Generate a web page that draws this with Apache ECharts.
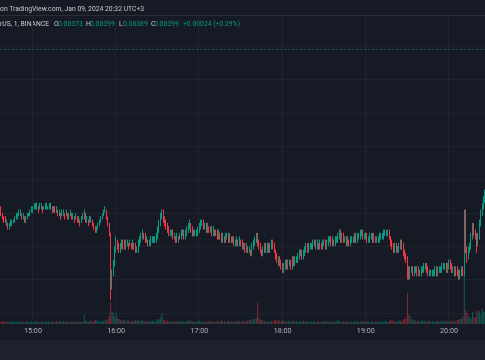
<!DOCTYPE html>
<html><head><meta charset="utf-8">
<script src="https://cdn.jsdelivr.net/npm/echarts@6/dist/echarts.min.js"></script>
<style>html,body{margin:0;padding:0;background:#161a25;}#c{width:485px;height:360px;}</style>
</head><body><div id="c"></div>
<script>
// Dogecoin / TetherUS, 1 min, BINANCE — prices in units of 0.00001
const startTime = '14:37';
const slotCount = 356; // 14:37 .. 20:32
const openE5 = [
8351,8350,8349,8348,8347,8347,8346,8346,8347,8347,
8348,8348,8349,8349,8350,8350,8349,8349,8348,8349,
8349,8350,8350,8351,8351,8352,8352,8352,8351,8352,
8352,8351,8352,8352,8352,8352,8352,8352,8351,8352,
8351,8351,8350,8350,8349,8350,8350,8349,8350,8349,
8350,8350,8349,8349,8348,8349,8348,8348,8347,8348,
8349,8350,8348,8348,8347,8348,8348,8347,8346,8345,
8345,8346,8347,8348,8349,8350,8351,8349,8347,8344,
8330,8332,8335,8339,8341,8340,8339,8340,8341,8340,
8341,8340,8341,8340,8341,8340,8341,8340,8339,8339,
8341,8342,8343,8344,8343,8342,8342,8341,8341,8342,
8342,8342,8342,8343,8345,8347,8349,8350,8348,8347,
8346,8345,8344,8344,8344,8343,8343,8342,8343,8342,
8343,8344,8344,8343,8344,8345,8346,8347,8345,8344,
8344,8344,8344,8345,8346,8347,8347,8346,8346,8345,
8346,8345,8345,8344,8345,8344,8344,8343,8344,8343,
8342,8343,8342,8343,8343,8342,8343,8342,8342,8341,
8341,8342,8341,8342,8341,8340,8340,8339,8340,8339,
8339,8338,8340,8341,8342,8343,8341,8340,8339,8338,
8339,8340,8339,8340,8339,8340,8341,8340,8339,8337,
8336,8335,8336,8334,8333,8334,8335,8334,8335,8335,
8334,8336,8335,8336,8336,8337,8338,8338,8337,8338,
8339,8340,8339,8340,8340,8340,8341,8341,8340,8341,
8340,8341,8340,8341,8341,8340,8341,8342,8342,8341,
8342,8341,8342,8342,8343,8344,8342,8343,8342,8342,
8341,8342,8341,8342,8342,8342,8343,8342,8343,8343,
8344,8344,8343,8343,8343,8342,8342,8343,8343,8342,
8343,8342,8342,8342,8343,8343,8343,8344,8344,8344,
8344,8343,8341,8340,8339,8340,8339,8339,8340,8341,
8340,8338,8337,8336,8333,8331,8333,8333,8332,8333,
8333,8332,8333,8332,8333,8333,8334,8334,8333,8332,
8332,8332,8332,8332,8333,8332,8333,8333,8333,8334,
8334,8334,8333,8334,8335,8334,8333,8333,8332,8333,
8332,8331,8332,8333,8332,8350,8339,8337,8339,8340,
8343,8346,8344,8343,8341,8343,8347,8350,8352,8354];
const closeE5 = [
8350,8349,8348,8347,8347,8346,8346,8347,8347,8348,
8348,8349,8349,8350,8350,8349,8349,8348,8349,8349,
8350,8350,8351,8351,8352,8352,8352,8351,8352,8352,
8351,8352,8352,8352,8352,8352,8352,8351,8352,8351,
8351,8350,8350,8349,8350,8350,8349,8350,8349,8350,
8350,8349,8349,8348,8349,8348,8348,8347,8348,8349,
8350,8348,8348,8347,8348,8348,8347,8346,8345,8345,
8346,8347,8348,8349,8350,8351,8349,8347,8344,8330,
8332,8335,8339,8341,8340,8339,8340,8341,8340,8341,
8340,8341,8340,8341,8340,8341,8340,8339,8339,8341,
8342,8343,8344,8343,8342,8342,8341,8341,8342,8342,
8342,8342,8343,8345,8347,8349,8350,8348,8347,8346,
8345,8344,8344,8344,8343,8343,8342,8343,8342,8343,
8344,8344,8343,8344,8345,8346,8347,8345,8344,8344,
8344,8344,8345,8346,8347,8347,8346,8346,8345,8346,
8345,8345,8344,8345,8344,8344,8343,8344,8343,8342,
8343,8342,8343,8343,8342,8343,8342,8342,8341,8341,
8342,8341,8342,8341,8340,8340,8339,8340,8339,8339,
8338,8340,8341,8342,8343,8341,8340,8339,8338,8339,
8340,8339,8340,8339,8340,8341,8340,8339,8337,8336,
8335,8336,8334,8333,8334,8335,8334,8335,8335,8334,
8336,8335,8336,8336,8337,8338,8338,8337,8338,8339,
8340,8339,8340,8340,8340,8341,8341,8340,8341,8340,
8341,8340,8341,8341,8340,8341,8342,8342,8341,8342,
8341,8342,8342,8343,8344,8342,8343,8342,8342,8341,
8342,8341,8342,8342,8342,8343,8342,8343,8343,8344,
8344,8343,8343,8343,8342,8342,8343,8343,8342,8343,
8342,8342,8342,8343,8343,8343,8344,8344,8344,8344,
8343,8341,8340,8339,8340,8339,8339,8340,8341,8340,
8338,8337,8336,8333,8331,8333,8333,8332,8333,8333,
8332,8333,8332,8333,8333,8334,8334,8333,8332,8332,
8332,8332,8332,8333,8332,8333,8333,8333,8334,8334,
8334,8333,8334,8335,8334,8333,8333,8332,8333,8332,
8331,8332,8333,8332,8350,8339,8337,8339,8340,8343,
8346,8344,8343,8341,8343,8347,8350,8352,8354,8356];
const highE5 = [
8352,8350,8349,8349,8348,8347,8347,8348,8348,8348,
8349,8350,8350,8351,8351,8350,8350,8349,8349,8350,
8350,8351,8352,8352,8353,8353,8353,8352,8353,8353,
8352,8352,8353,8353,8352,8353,8353,8352,8352,8352,
8352,8351,8351,8350,8351,8351,8350,8351,8350,8350,
8351,8350,8350,8349,8350,8349,8349,8348,8349,8350,
8351,8350,8349,8348,8349,8349,8348,8347,8346,8346,
8347,8348,8349,8350,8351,8352,8351,8349,8347,8344,
8333,8336,8340,8343,8342,8341,8341,8342,8342,8342,
8342,8342,8341,8342,8341,8342,8341,8341,8340,8342,
8343,8344,8345,8344,8344,8343,8342,8342,8343,8343,
8343,8343,8344,8346,8348,8350,8351,8351,8349,8348,
8347,8346,8345,8345,8345,8344,8343,8344,8343,8344,
8345,8345,8345,8345,8346,8347,8348,8347,8346,8345,
8345,8345,8346,8347,8348,8348,8348,8347,8347,8347,
8346,8346,8346,8346,8345,8345,8345,8345,8344,8344,
8344,8343,8344,8344,8344,8344,8343,8343,8343,8342,
8343,8342,8343,8342,8342,8341,8341,8341,8340,8340,
8339,8341,8342,8343,8344,8344,8342,8341,8339,8340,
8341,8341,8341,8341,8341,8342,8342,8341,8339,8338,
8337,8337,8336,8335,8335,8336,8336,8336,8336,8336,
8337,8337,8337,8337,8338,8339,8339,8339,8339,8340,
8341,8341,8341,8341,8341,8342,8342,8342,8342,8341,
8342,8341,8342,8342,8342,8342,8343,8343,8343,8343,
8342,8343,8343,8344,8345,8345,8344,8344,8343,8343,
8343,8342,8343,8343,8343,8344,8344,8344,8344,8345,
8345,8345,8344,8344,8344,8343,8344,8344,8344,8344,
8343,8343,8343,8344,8344,8344,8345,8345,8345,8345,
8345,8343,8342,8341,8341,8341,8340,8341,8342,8342,
8341,8339,8338,8337,8334,8334,8334,8334,8334,8334,
8334,8334,8333,8334,8334,8335,8335,8335,8334,8333,
8333,8333,8333,8334,8334,8334,8334,8334,8335,8335,
8335,8335,8335,8336,8336,8335,8334,8334,8334,8334,
8333,8333,8334,8334,8351,8351,8340,8340,8341,8344,
8347,8347,8345,8344,8344,8348,8351,8353,8355,8357];
const lowE5 = [
8349,8348,8347,8347,8346,8345,8345,8346,8346,8347,
8347,8348,8348,8349,8349,8348,8348,8347,8347,8348,
8349,8349,8350,8350,8351,8351,8351,8350,8351,8351,
8350,8351,8351,8351,8351,8351,8351,8350,8350,8350,
8350,8349,8349,8348,8349,8349,8348,8349,8348,8348,
8349,8348,8348,8347,8348,8347,8347,8346,8347,8348,
8348,8347,8347,8346,8347,8347,8346,8345,8344,8344,
8345,8346,8347,8348,8349,8350,8348,8346,8343,8324,
8327,8331,8334,8338,8339,8338,8338,8339,8339,8339,
8339,8340,8339,8340,8339,8339,8339,8338,8338,8338,
8340,8341,8342,8342,8341,8341,8340,8340,8340,8341,
8341,8341,8341,8342,8344,8346,8348,8347,8346,8345,
8344,8343,8343,8343,8342,8342,8341,8341,8341,8342,
8342,8343,8342,8342,8343,8344,8345,8344,8343,8343,
8343,8343,8343,8344,8345,8346,8345,8345,8344,8344,
8344,8344,8343,8343,8343,8343,8342,8342,8342,8341,
8341,8341,8341,8342,8341,8341,8341,8341,8340,8340,
8340,8340,8340,8340,8339,8339,8338,8338,8338,8338,
8337,8337,8339,8340,8341,8340,8339,8338,8337,8337,
8338,8338,8338,8338,8338,8339,8339,8338,8336,8335,
8334,8334,8333,8332,8332,8333,8333,8333,8334,8333,
8333,8334,8334,8335,8335,8336,8337,8336,8336,8337,
8338,8338,8338,8339,8339,8339,8340,8339,8339,8339,
8339,8339,8339,8340,8339,8339,8340,8341,8340,8340,
8340,8340,8341,8341,8342,8341,8341,8341,8341,8340,
8340,8340,8340,8341,8341,8341,8341,8341,8342,8342,
8343,8342,8342,8342,8341,8341,8341,8342,8341,8341,
8341,8341,8341,8341,8342,8342,8342,8343,8343,8343,
8342,8340,8339,8338,8338,8338,8338,8338,8339,8339,
8337,8336,8335,8330,8330,8330,8332,8331,8331,8332,
8331,8331,8331,8331,8332,8332,8333,8332,8331,8331,
8331,8331,8331,8331,8331,8331,8332,8332,8332,8333,
8333,8332,8332,8333,8333,8332,8332,8331,8331,8331,
8330,8330,8331,8331,8331,8338,8335,8336,8338,8339,
8342,8343,8342,8338,8340,8342,8346,8349,8351,8353];
const volume = [
5,4,6,3,4,5,3,4,6,3, 4,3,5,4,3,6,4,3,4,5, 3,4,5,3,4,6,5,4,3,5, 4,3,5,4,6,3,4,5,3,4,
5,4,3,6,4,5,3,4,5,4, 3,5,4,3,6,4,5,4,3,5, 17,6,5,4,7,5,4,6,8,7, 6,5,4,6,5,8,6,9,15,41,
22,20,14,20,10,9,8,7,6,8, 5,7,6,5,4,6,5,8,7,6, 5,6,7,5,4,6,5,4,5,6, 5,4,6,8,9,12,20,8,7,6,
5,6,4,5,4,3,5,6,4,5, 4,5,3,4,6,5,7,6,4,5, 4,3,5,6,4,5,4,3,5,4, 6,4,5,3,4,5,6,4,5,7,
4,5,3,4,6,4,5,3,4,5, 4,6,5,4,5,6,4,5,7,6, 8,7,9,10,11,39,12,8,7,6, 5,6,4,5,4,6,5,7,8,6,
7,6,5,8,6,5,4,6,5,4, 5,6,4,5,3,4,5,4,6,5, 4,5,3,4,5,4,6,3,4,5, 4,3,5,4,6,5,4,3,5,4,
5,4,6,7,5,4,3,5,4,5, 4,3,5,4,3,5,4,6,4,5, 4,5,3,4,5,4,3,5,4,3, 4,5,3,4,3,5,4,6,5,4,
5,8,7,6,5,4,6,7,5,6, 8,9,12,57,17,15,9,8,7,6, 5,6,4,5,7,6,5,4,6,5, 4,6,5,4,5,6,4,5,7,6,
5,6,4,5,6,5,4,6,5,7, 8,9,10,14,100,26,20,15,12,10, 22,14,12,26,20,24,18,28,22,25];
const lastPriceE5 = 8399;
const priceMinE5 = 8320, priceMaxE5 = 8400, priceStepE5 = 10;
const titleText = 'on TradingView.com, Jan 09, 2024 20:32 UTC+3';
const symbolText = 'rUS, 1, BINANCE';
const ohlcLabels = ['O', 'H', 'L', 'C'];
const ohlcValues = ['0.08373', '0.08399', '0.08369', '0.08399'];
const changeText = '+0.00024 (+0.29%)';

const UP = '#089981', DOWN = '#f23645';
const times = [];
{ let [h, m] = startTime.split(':').map(Number);
  for (let k = 0; k < slotCount; k++) {
    times.push(String(h).padStart(2, '0') + ':' + String(m).padStart(2, '0'));
    m++; if (m === 60) { m = 0; h++; }
  } }
const candles = openE5.map((o, i) => [o, closeE5[i], lowE5[i], highE5[i]]);
const vols = volume.map((v, i) => ({ value: v, itemStyle: { color: closeE5[i] >= openE5[i] ? 'rgba(8,153,129,0.5)' : 'rgba(242,54,69,0.5)' } }));
const isHour = (idx, val) => /:00$/.test(val);
const FONT = 'Roboto, "Noto Sans", sans-serif';
const FS = 6.8;

const chart = echarts.init(document.getElementById('c'), null, { renderer: 'canvas' });
const gl = 0.4, gw = 493.7;
const legendX = [0, 54, 86, 119, 151];
const valueX = [58, 90, 123, 154];
const graphics = [
  { type: 'rect', shape: { x: 0, y: 340, width: 485, height: 20 }, style: { fill: '#1f222c' } },
  { type: 'line', shape: { x1: 0, y1: 15.5, x2: 485, y2: 15.5 }, style: { stroke: '#2a2e39', lineWidth: 1 } },
  { type: 'text', x: 0, y: 9, style: { text: titleText, fill: '#c7cad1', font: FS + 'px ' + FONT, verticalAlign: 'middle' } },
  { type: 'text', x: 0, y: 24.5, style: { text: symbolText, fill: '#c7cad1', font: FS + 'px ' + FONT, verticalAlign: 'middle' } },
  { type: 'text', x: 183, y: 24.5, style: { text: changeText, fill: UP, font: FS + 'px ' + FONT, verticalAlign: 'middle' } }
];
ohlcLabels.forEach((l, k) => {
  graphics.push({ type: 'text', x: legendX[k + 1], y: 24.5, style: { text: l, fill: '#c7cad1', font: FS + 'px ' + FONT, verticalAlign: 'middle' } });
  graphics.push({ type: 'text', x: valueX[k], y: 24.5, style: { text: ohlcValues[k], fill: UP, font: FS + 'px ' + FONT, verticalAlign: 'middle' } });
});

chart.setOption({
  animation: false,
  backgroundColor: '#161a25',
  grid: [
    { left: gl, width: gw, top: 46, bottom: 47, containLabel: false, outerBoundsMode: 'none' },
    { left: gl, width: gw, top: 15, bottom: 36, containLabel: false, outerBoundsMode: 'none' }
  ],
  xAxis: [
    { type: 'category', gridIndex: 0, data: times, show: false },
    { type: 'category', gridIndex: 1, data: times,
      axisLine: { show: false }, axisTick: { show: false },
      axisLabel: { interval: isHour, color: '#b2b5be', fontSize: 7.2, fontFamily: FONT, margin: 4, hideOverlap: false },
      splitLine: { show: true, interval: isHour, lineStyle: { color: '#1f2330', width: 1 } } }
  ],
  yAxis: [
    { type: 'value', gridIndex: 0, min: priceMinE5, max: priceMaxE5, interval: priceStepE5,
      axisLabel: { show: false }, axisLine: { show: false }, axisTick: { show: false },
      splitLine: { lineStyle: { color: '#1f2330', width: 1 } } },
    { type: 'value', gridIndex: 1, min: 0, max: 570, show: false, splitLine: { show: false } }
  ],
  series: [
    { type: 'bar', xAxisIndex: 1, yAxisIndex: 1, data: vols, barWidth: 1, z: 1 },
    { type: 'candlestick', xAxisIndex: 0, yAxisIndex: 0, data: candles, barWidth: 0.6, z: 3,
      itemStyle: { color: UP, color0: DOWN, borderColor: UP, borderColor0: DOWN, borderWidth: 1 },
      markLine: { silent: true, symbol: 'none', label: { show: false },
        lineStyle: { color: 'rgba(8,153,129,0.55)', type: [2, 2], width: 1 },
        data: [{ yAxis: lastPriceE5 }] } }
  ],
  graphic: graphics
});
</script></body></html>
